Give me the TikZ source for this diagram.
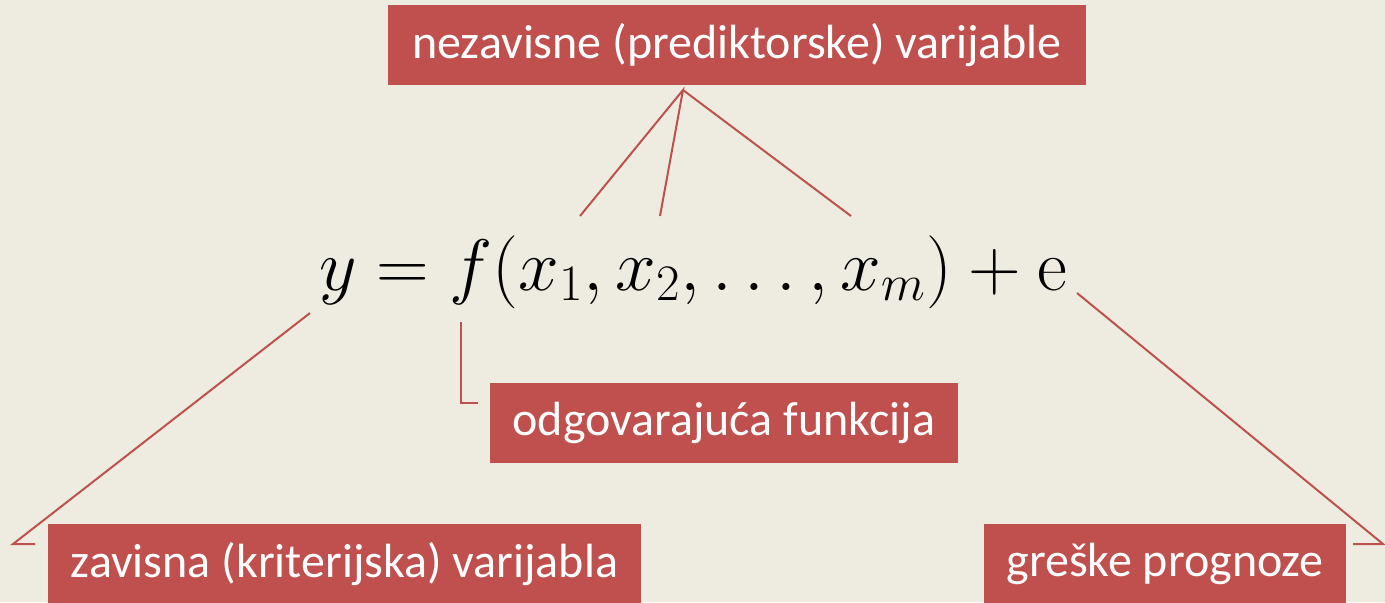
\documentclass[tikz,border=0pt]{standalone}
\usepackage{fix-cm}
\usepackage[no-math]{fontspec}
\setmainfont{Carlito}
\definecolor{boxred}{HTML}{C0504D}
\definecolor{paper}{HTML}{EEECE1}

\begin{document}
\begin{tikzpicture}[x=0.5pt,y=-0.5pt,
  lbl/.style={fill=boxred,text=white,font=\fontsize{24}{28}\selectfont,inner sep=0pt,minimum height=40pt},
  lead/.style={draw=boxred,line width=1pt}]
\fill[paper] (0,0) rectangle (1385,602);
\clip (0,0) rectangle (1385,602);
% labels
\node[lbl,minimum width=349pt] (pred) at (737,45) {nezavisne (prediktorske) varijable};
\node[lbl,minimum width=234pt] (func) at (724,423) {odgovarajuća funkcija};
\node[lbl,minimum width=296.5pt] (dep) at (344.5,564) {zavisna (kriterijska) varijabla};
\node[lbl,minimum width=181pt] (err) at (1165,564) {greške prognoze};
% formula
\node[font=\fontsize{36.5}{42}\selectfont,anchor=base,inner sep=0pt] (eq) at (693,290)
  {$y = f(x_1, x_2,\ldots, x_m) + \mathrm{e}$};
% leader ends
\coordinate (apex) at (683,90);
\coordinate (xa) at (580,216);
\coordinate (xb) at (660,216);
\coordinate (xc) at (851,216);
\coordinate (fy) at (310,313);
\coordinate (fy2) at (13,544);
\coordinate (fdep) at (35,544);
\coordinate (ff) at (461,322);
\coordinate (ffunc) at (478,403);
\coordinate (fe) at (1077,293);
\coordinate (fe2) at (1383,544);
\coordinate (ferr) at (1353,544);
\draw[lead] (xa) -- (apex) -- (xb);
\draw[lead] (apex) -- (xc);
\draw[lead] (fy) -- (fy2) -- (fdep);
\draw[lead] (ff) |- (ffunc);
\draw[lead] (fe) -- (fe2) -- (ferr);
\end{tikzpicture}
\end{document}
